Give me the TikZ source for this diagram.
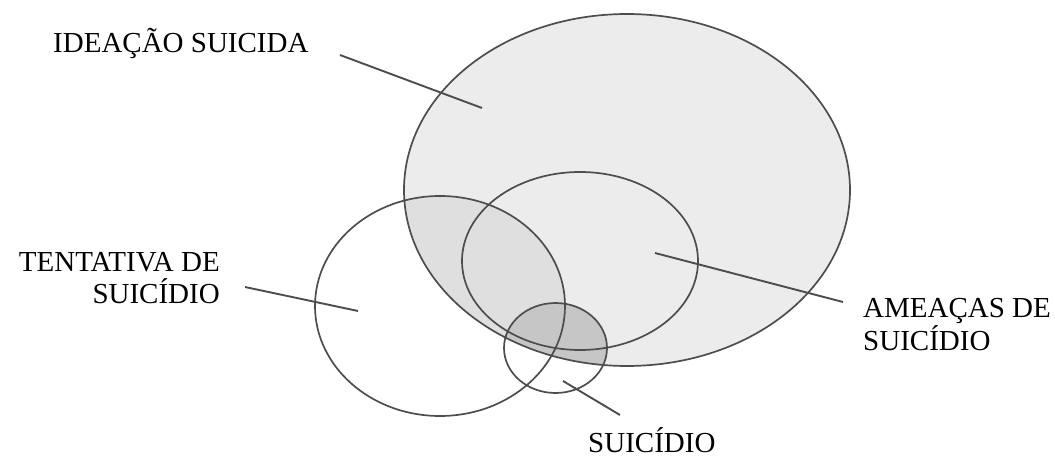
\documentclass[tikz,border=0pt]{standalone}
\usepackage{fontspec}
\setmainfont{Liberation Serif}
\usetikzlibrary{shapes.geometric}
\definecolor{ink}{HTML}{4D4D4D}
\definecolor{lightfill}{HTML}{ECECEC}
\definecolor{midfill}{HTML}{DFDFDF}
\definecolor{darkfill}{HTML}{C6C6C6}
\begin{document}
\begin{tikzpicture}[x=1pt,y=-1pt,
  ring/.style={draw=ink, line width=1.7pt, ellipse, inner sep=0pt, outer sep=0pt},
  leader/.style={draw=ink, line width=1.9pt},
  lbl/.style={font=\fontsize{29pt}{32pt}\selectfont, inner sep=0pt, text=black}]
\useasboundingbox (0,0) rectangle (1055,457);
% shaded regions
\fill[lightfill] (627,190) ellipse [x radius=223pt, y radius=176pt];
\begin{scope}
  \clip (627,190) ellipse [x radius=223pt, y radius=176pt];
  \fill[midfill] (440,306) ellipse [x radius=125pt, y radius=110pt];
  \fill[darkfill] (555.5,348) ellipse [x radius=51.5pt, y radius=45pt];
\end{scope}
% outlines
\node[ring, minimum width=446pt, minimum height=352pt] (ide) at (627,190) {};
\node[ring, minimum width=236pt, minimum height=178pt] (ame) at (580,261) {};
\node[ring, minimum width=250pt, minimum height=220pt] (ten) at (440,306) {};
\node[ring, minimum width=103pt, minimum height=90pt] (sui) at (555.5,348) {};
% labels
\node[lbl, anchor=base west] (tIde) at (53,53) {IDEAÇÃO SUICIDA};
\node[lbl, anchor=base east, align=right] (tTen) at (220,303) {TENTATIVA DE\\SUICÍDIO};
\node[lbl, anchor=base west, align=left, font=\fontsize{29pt}{33pt}\selectfont] (tAme) at (863,350) {AMEAÇAS DE\\SUICÍDIO};
\node[lbl, anchor=base west] (tSui) at (588,452) {SUICÍDIO};
% leader lines
\coordinate (ideA) at (340,55);   \coordinate (ideB) at (482,108);
\coordinate (tenA) at (245,287);  \coordinate (tenB) at (358,311);
\coordinate (ameA) at (843,302);  \coordinate (ameB) at (655,253);
\coordinate (suiA) at (620,415);  \coordinate (suiB) at (563,381);
\draw[leader] (ideA) -- (ideB);
\draw[leader] (tenA) -- (tenB);
\draw[leader] (ameA) -- (ameB);
\draw[leader] (suiA) -- (suiB);
\end{tikzpicture}
\end{document}
